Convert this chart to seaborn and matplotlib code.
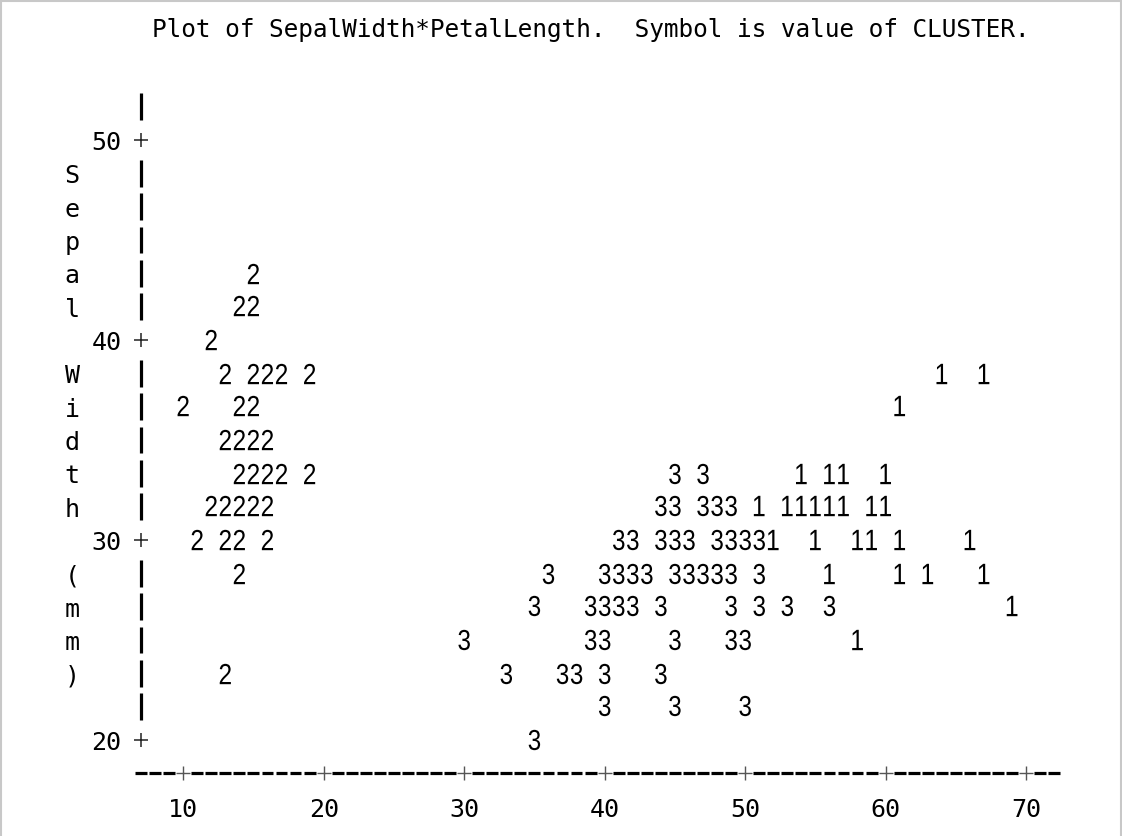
import numpy as np
import pandas as pd
import seaborn as sns
import matplotlib.pyplot as plt
from matplotlib.lines import Line2D
from matplotlib.path import Path
from matplotlib.textpath import TextPath
from matplotlib.font_manager import FontProperties

sns.set_style('white')
plt.rcParams['font.family'] = ['DejaVu Sans Mono', 'DejaVu Sans']
plt.rcParams['text.color'] = 'black'

title = 'Plot of SepalWidth*PetalLength.  Symbol is value of CLUSTER.'
ylabel = 'Sepal Width (mm)'
xticks = [10, 20, 30, 40, 50, 60, 70]
yticks = [20, 30, 40, 50]

# cluster 1
c1_petal = [64, 67, 61, 54, 56, 57, 60, 51, 53, 54, 55, 56, 57, 59, 60,
            52, 55, 58, 59, 61, 66, 56, 61, 63, 67, 69, 58]
c1_sepal = [38.3, 38.3, 36.7, 33.3, 33.3, 33.3, 33.3, 31.7, 31.7, 31.7, 31.7, 31.7, 31.7, 31.7, 31.7,
            30.0, 30.0, 30.0, 30.0, 30.0, 30.0, 28.3, 28.3, 28.3, 28.3, 26.7, 25.0]
# cluster 2
c2_petal = [15, 14, 15, 12, 13, 15, 16, 17, 19, 10, 14, 15, 13, 14, 15, 16,
            14, 15, 16, 17, 19, 12, 13, 14, 15, 16, 11, 13, 14, 16, 14, 13]
c2_sepal = [43.3, 41.7, 41.7, 40.0, 38.3, 38.3, 38.3, 38.3, 38.3, 36.7, 36.7, 36.7, 35.0, 35.0, 35.0, 35.0,
            33.3, 33.3, 33.3, 33.3, 33.3, 31.7, 31.7, 31.7, 31.7, 31.7, 30.0, 30.0, 30.0, 30.0, 28.3, 23.3]
# cluster 3
c3_petal = [45, 47, 44, 45, 47, 48, 49, 41, 42, 44, 45, 46, 48, 49, 50, 51,
            36, 40, 41, 42, 43, 45, 46, 47, 48, 49, 51, 35, 39, 40, 41, 42, 44, 49, 51, 53, 56,
            30, 39, 40, 45, 49, 50, 33, 37, 38, 40, 44, 40, 45, 50, 35]
c3_sepal = [33.3, 33.3, 31.7, 31.7, 31.7, 31.7, 31.7, 30.0, 30.0, 30.0, 30.0, 30.0, 30.0, 30.0, 30.0, 30.0,
            28.3, 28.3, 28.3, 28.3, 28.3, 28.3, 28.3, 28.3, 28.3, 28.3, 28.3,
            26.7, 26.7, 26.7, 26.7, 26.7, 26.7, 26.7, 26.7, 26.7, 26.7,
            25.0, 25.0, 25.0, 25.0, 25.0, 25.0, 23.3, 23.3, 23.3, 23.3, 23.3, 21.7, 21.7, 21.7, 20.0]

df = pd.DataFrame({
    'PetalLength': c1_petal + c2_petal + c3_petal,
    'SepalWidth': c1_sepal + c2_sepal + c3_sepal,
    'CLUSTER': [1] * len(c1_petal) + [2] * len(c2_petal) + [3] * len(c3_petal),
})


def digit_marker(ch, squeeze=0.84):
    # glyph of the cluster number, centred and a bit narrowed like the printer font
    p = TextPath((0, 0), ch, size=1, prop=FontProperties(family=['Liberation Sans', 'DejaVu Sans']))
    ext = p.get_extents()
    v = p.vertices - [(ext.x0 + ext.x1) / 2, (ext.y0 + ext.y1) / 2]
    v[:, 0] *= squeeze
    return Path(v, p.codes)


FS = 18
ROW = 10 / 6          # one printed line, in SepalWidth units
AX_X = 7              # column of the vertical axis
AX_Y = 20 - ROW       # line of the horizontal axis

fig = plt.figure(figsize=(11.22, 8.36), dpi=100)
ax = fig.add_axes([141 / 1122, 63 / 836, 981 / 1122, 773 / 836])
ax.set_xlim(AX_X, AX_X + 981 / 14.05)
ax.set_ylim(50 - 633 / 20, 50 + 140 / 20)
ax.axis('off')

sns.scatterplot(data=df, x='PetalLength', y='SepalWidth', style='CLUSTER',
                markers={k: digit_marker(str(k)) for k in (1, 2, 3)},
                color='black', s=215, linewidth=0, legend=False, ax=ax, clip_on=False)

# vertical axis: '|' on each line, '+' at the ticks
for k in range(1, -18, -1):
    r = 50 + ROW * k
    if abs(r - round(r / 10) * 10) > 1e-6:
        ax.vlines(AX_X, r - 0.67, r + 0.67, color='black', lw=2.3, clip_on=False)
ax.plot([AX_X] * len(yticks), yticks, ls='none', marker='+', ms=9.5, mew=1.1,
        color='#222222', clip_on=False)

# horizontal axis: '-' in each column, '+' at the ticks
for c in range(7, 73):
    if c % 10:
        ax.hlines(AX_Y, c - 0.42, c + 0.42, color='black', lw=2.3, clip_on=False)
ax.plot(xticks, [AX_Y] * len(xticks), ls='none', marker='+', ms=9.5, mew=1.0,
        color='#555555', clip_on=False)

for t in yticks:
    ax.text(4.55, t - 0.5, str(t), ha='center', va='baseline', fontsize=FS)
for t in xticks:
    ax.text(t, AX_Y - ROW - 0.5, str(t), ha='center', va='baseline', fontsize=FS, clip_on=False)
for i, ch in enumerate(ylabel):
    ax.text(2.09, 50 - ROW * (i + 1) - 0.5, ch, ha='center', va='baseline', fontsize=FS)

fig.text(591 / 1122, 1 - 37 / 836, title, ha='center', va='baseline', fontsize=17.6)

# light page border
for xs, ys in [([0, 1], [0.999, 0.999]), ([0.001, 0.001], [0, 1]), ([0.999, 0.999], [0, 1])]:
    fig.add_artist(Line2D(xs, ys, color='#c8c8c8', lw=1.5, transform=fig.transFigure))

fig.savefig('out.png', dpi=100)
